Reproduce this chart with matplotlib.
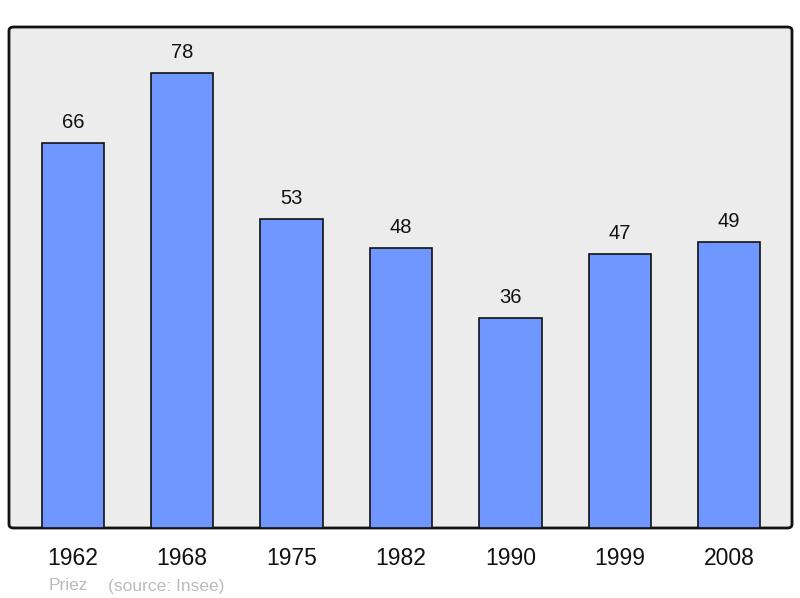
import matplotlib
matplotlib.use("Agg")
import matplotlib.pyplot as plt
from matplotlib.patches import FancyBboxPatch

years = ["1962", "1968", "1975", "1982", "1990", "1999", "2008"]
values = [66, 78, 53, 48, 36, 47, 49]

plt.rcParams['font.family'] = ['Liberation Sans', 'DejaVu Sans']

W, H = 800, 598
fig = plt.figure(figsize=(W/100, H/100), dpi=100)
x0, x1, y0, y1 = 9, 792, 27, 528
ax = fig.add_axes([x0/W, 1 - y1/H, (x1-x0)/W, (y1-y0)/H])
ax.set_facecolor('none')

# rounded frame background
frame = FancyBboxPatch((x0/W, 1 - y1/H), (x1-x0)/W, (y1-y0)/H,
                       boxstyle="round,pad=0,rounding_size=0.006",
                       transform=fig.transFigure, facecolor='#ececec',
                       edgecolor='#111111', linewidth=2, zorder=-1)
fig.patches.append(frame)

pos = list(range(len(years)))
ax.bar(pos, values, width=0.57, color='#7097ff', edgecolor='#111111',
       linewidth=1.2, zorder=2)
for p, v in zip(pos, values):
    ax.annotate(str(v), (p, v), xytext=(0, 15), textcoords='offset points',
                ha='center', va='center', fontsize=14.5, color='#111111')

ax.set_xlim(-0.584, 6.575)
ax.set_ylim(0, 85.9)
for s in ax.spines.values():
    s.set_visible(False)
ax.set_yticks([])
ax.set_xticks(pos)
ax.set_xticklabels(years, fontsize=16.5, color='#111111')
ax.tick_params(axis='x', length=0, pad=13.5)

fig.text(49/W, 1 - 586/H, "Priez", fontsize=12.5, color='#bbbbbb', va='center', ha='left')
fig.text(108/W, 1 - 586/H, "(source: Insee)", fontsize=12.5, color='#bbbbbb', va='center', ha='left')

fig.savefig("out.png", dpi=100)
